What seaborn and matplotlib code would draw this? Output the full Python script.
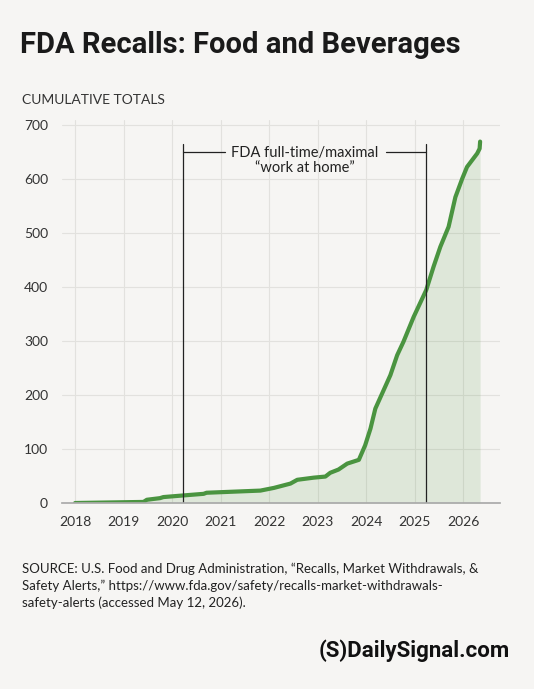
import matplotlib
matplotlib.use("Agg")
import matplotlib.pyplot as plt
import seaborn as sns
import pandas as pd

years = [2018.0, 2019.41, 2019.48, 2019.75, 2019.82, 2020.23, 2020.65, 2020.71, 2021.82, 2022.1,
         2022.44, 2022.58, 2022.92, 2023.16, 2023.26, 2023.43, 2023.61, 2023.85, 2023.98, 2024.09,
         2024.19, 2024.5, 2024.64, 2024.77, 2024.98, 2025.24, 2025.39, 2025.53, 2025.7, 2025.84,
         2025.98, 2026.08, 2026.29, 2026.34, 2026.35]
totals = [0, 2, 6, 9, 11, 14, 17, 19, 23, 28, 36, 43, 47, 49, 56, 62, 73, 80, 107, 138,
          175, 237, 274, 299, 345, 395, 438, 475, 512, 567, 601, 623, 648, 657, 670]
xticks = [2018, 2019, 2020, 2021, 2022, 2023, 2024, 2025, 2026]
yticks = [0, 100, 200, 300, 400, 500, 600, 700]
wfh_start, wfh_end = 2020.23, 2025.24

df = pd.DataFrame({"year": years, "total": totals})
bg = "#f6f5f3"
sns.set_theme(style="white")
plt.rcParams["font.family"] = ["Lato", "DejaVu Sans"]

fig = plt.figure(figsize=(5.34, 6.89), dpi=100, facecolor=bg)
ax = fig.add_axes([62/534, 1-503/689, 438/534, 383/689], facecolor=bg)
ax.fill_between(df.year, df.total, color="#5a9a4a", alpha=0.15, lw=0)
sns.lineplot(data=df, x="year", y="total", ax=ax, color="#4a9440", lw=3)
ax.set_xlim(2017.73, 2026.76)
ax.set_ylim(0, 710)
ax.set_xticks(xticks)
ax.set_yticks(yticks)
ax.grid(True, color="#e2e1de", lw=0.8)
for s in ["top", "right", "left"]:
    ax.spines[s].set_visible(False)
ax.spines["bottom"].set_color("#aaaaaa")
ax.tick_params(labelsize=10, colors="#333333", length=0)
ax.tick_params(axis="x", pad=9)
ax.tick_params(axis="y", pad=10)
ax.set_xlabel(""); ax.set_ylabel("")
for x in (wfh_start, wfh_end):
    ax.axvline(x, ymin=0, ymax=665/710, color="#222222", lw=0.9)
ax.plot([wfh_start, 2021.1], [650, 650], color="#222222", lw=0.9)
ax.plot([2024.4, wfh_end], [650, 650], color="#222222", lw=0.9)
ax.text((wfh_start + wfh_end) / 2 + 0.0, 662, "FDA full-time/maximal\n\u201cwork at home\u201d",
        ha="center", va="top", fontsize=10.5, color="#222222", linespacing=1.1)

fig.text(20/534, 1-45/689, "FDA Recalls: Food and Beverages", fontsize=21, fontweight="bold",
         family=["Roboto", "DejaVu Sans"], color="#1a1a1a", va="center")
fig.text(22/534, 1-100/689, "CUMULATIVE TOTALS", fontsize=10, color="#333333", va="center")
fig.text(22/534, 1-563/689,
         "SOURCE: U.S. Food and Drug Administration, \u201cRecalls, Market Withdrawals, &\n"
         "Safety Alerts,\u201d https://www.fda.gov/safety/recalls-market-withdrawals-\n"
         "safety-alerts (accessed May 12, 2026).",
         fontsize=9.5, color="#222222", va="top", linespacing=1.4)
fig.text(510/534, 1-651/689, "(S)DailySignal.com", fontsize=16, fontweight="bold",
         family=["Roboto", "DejaVu Sans"], color="#111111", ha="right", va="center")
fig.savefig("out.png", dpi=100, facecolor=bg)
